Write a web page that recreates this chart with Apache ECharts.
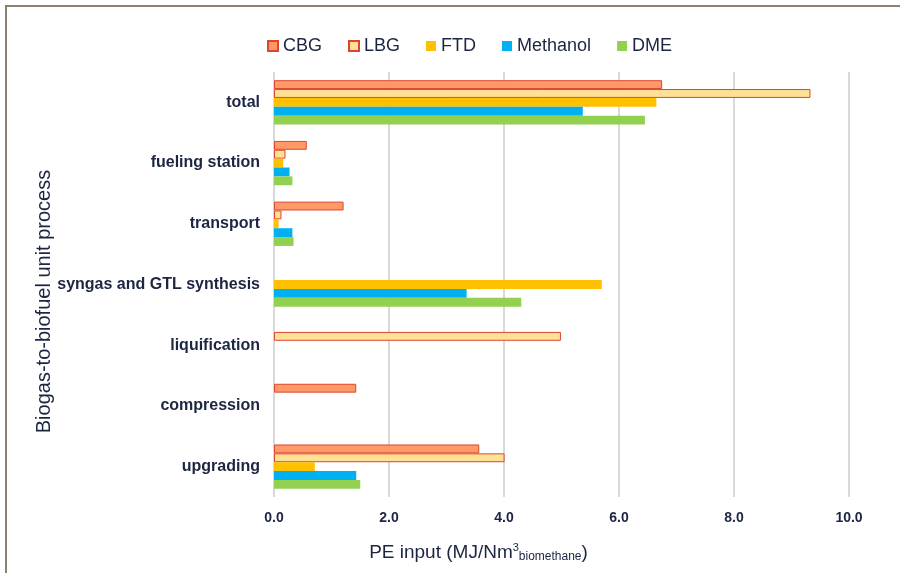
<!DOCTYPE html>
<html>
<head>
<meta charset="utf-8">
<script src="https://cdn.jsdelivr.net/npm/echarts@6/dist/echarts.min.js"></script>
<style>
  html, body { margin: 0; padding: 0; background: #fff; }
  #main { width: 900px; height: 573px; }
</style>
</head>
<body>
<div id="main"></div>
<script>
// categories top to bottom
var processes = ['total', 'fueling station', 'transport', 'syngas and GTL synthesis', 'liquification', 'compression', 'upgrading']
var fuels = ['CBG', 'LBG', 'FTD', 'Methanol', 'DME']

var cbg = [6.75, 0.57, 1.21, null, null, 1.43, 3.57]
var lbg = [9.33, 0.2, 0.13, null, 4.99, null, 4.01]
var ftd = [6.65, 0.16, 0.08, 5.7, null, null, 0.71]
var methanol = [5.37, 0.27, 0.32, 3.35, null, null, 1.43]
var dme = [6.45, 0.32, 0.34, 4.3, null, null, 1.5]

var xTicks = [0, 2, 4, 6, 8, 10]

var textColor = '#1c2541'
var font = 'Liberation Sans'

var styles = [
  { color: '#ff9a66', borderColor: '#dc4530', borderWidth: 1 },
  { color: '#ffe196', borderColor: '#dc4530', borderWidth: 1 },
  { color: '#ffc000' },
  { color: '#00b0f0' },
  { color: '#92d050' },
]
var values = [cbg, lbg, ftd, methanol, dme]

var series = []
for (var i = 0; i < fuels.length; i++) {
  series.push({
    name: fuels[i],
    type: 'bar',
    data: values[i],
    barGap: '0%',
    barCategoryGap: '27%',
    itemStyle: styles[i],
  })
}

var myChart = echarts.init(document.getElementById('main'))
var option = {
  backgroundColor: '#fff',
  animation: false,
  textStyle: { fontFamily: font },
  graphic: [
    {
      type: 'rect',
      shape: { x: 6, y: 6, width: 1000, height: 1000 },
      style: { fill: 'none', stroke: '#8b8270', lineWidth: 2 },
      silent: true,
    },
  ],
  legend: {
    data: fuels,
    left: 262,
    top: 32,
    icon: 'rect',
    itemWidth: 10,
    itemHeight: 10,
    itemGap: 26,
    textStyle: { fontSize: 18, color: textColor, fontFamily: font },
  },
  grid: {
    left: 274,
    right: 51,
    top: 72,
    bottom: 76,
  },
  xAxis: {
    type: 'value',
    min: xTicks[0],
    max: xTicks[xTicks.length - 1],
    interval: 2,
    name: 'PE input (MJ/Nm{sup|3}{sub|biomethane})',
    nameLocation: 'middle',
    nameGap: 45,
    nameMoveOverlap: false,
    nameTextStyle: {
      fontSize: 19,
      color: textColor,
      fontFamily: font,
      padding: [0, 166, 0, 0],
      rich: {
        sup: { fontSize: 11, color: textColor, verticalAlign: 'top', padding: [0, 0, 9, 0] },
        sub: { fontSize: 12, color: textColor, verticalAlign: 'bottom', padding: [9, 0, 0, 0] },
      },
    },
    axisLine: { show: false },
    axisTick: { show: false },
    axisLabel: {
      fontSize: 14,
      fontWeight: 'bold',
      color: textColor,
      margin: 14,
      formatter: function (v) {
        return v.toFixed(1)
      },
    },
    splitLine: { lineStyle: { color: '#d9d9d9', width: 2 } },
  },
  yAxis: {
    type: 'category',
    inverse: true,
    data: processes,
    name: 'Biogas-to-biofuel unit process',
    nameLocation: 'middle',
    nameGap: 220,
    nameMoveOverlap: false,
    nameTextStyle: {
      fontSize: 20,
      color: textColor,
      fontFamily: font,
      padding: [0, 34, 0, 0],
    },
    axisLine: { show: false },
    axisTick: { show: false },
    axisLabel: {
      fontSize: 16,
      fontWeight: 'bold',
      color: textColor,
      margin: 14,
    },
  },
  series: series,
}
myChart.setOption(option)
</script>
</body>
</html>
